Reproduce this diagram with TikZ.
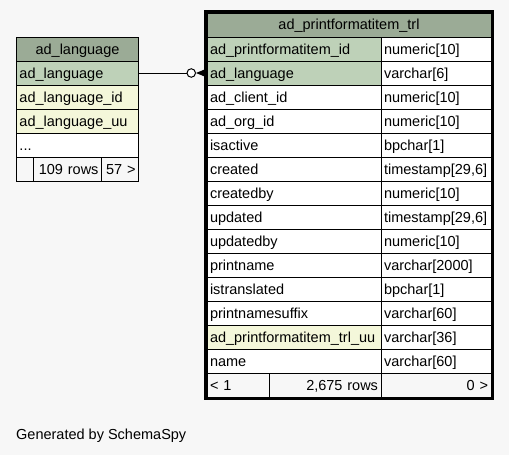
\documentclass[tikz,border=0pt]{standalone}
\usepackage{fontspec}
\setmainfont{Liberation Sans}
\usepackage{tikz}
\usetikzlibrary{positioning, arrows.meta, calc}

\definecolor{pagebg}{RGB}{247,247,247}
\definecolor{headfill}{RGB}{155,171,150}
\definecolor{keyfill}{RGB}{190,209,184}
\definecolor{idxfill}{RGB}{244,247,218}

\tikzset{
	cell/.style={draw=black, line width=1pt, anchor=north west, inner xsep=3pt, inner ysep=0pt, outer sep=0pt,
		minimum height=24pt, text height=12pt, text depth=2pt, align=left, fill=white,
		font=\fontsize{14.5}{17}\selectfont},
	lname/.style={cell, minimum width=122pt, text width=116pt},
	rname/.style={cell, minimum width=174pt, text width=168pt},
	rtype/.style={cell, minimum width=110pt, text width=104pt},
	foot/.style={cell, fill=pagebg},
}

\begin{document}
\begin{tikzpicture}[x=1pt,y=1pt,yscale=-1,xscale=1]
	\useasboundingbox[fill=pagebg] (0,0) rectangle (509,455);
	
	%Table: ad_language
	\node[lname, fill=headfill, align=center] (lhead) at (16.5,37) {ad\_language};
	\node[lname, fill=keyfill, below=0pt of lhead] (lkey) {ad\_language};
	\node[lname, fill=idxfill, below=0pt of lkey] (lid) {ad\_language\_id};
	\node[lname, fill=idxfill, below=0pt of lid] (luu) {ad\_language\_uu};
	\node[lname, below=0pt of luu] (ldots) {...};
	% footer
	\node[foot, minimum width=17pt, text width=11pt] (lf1) at (ldots.south west) {};
	\node[foot, minimum width=68pt, text width=62pt, align=right, right=0pt of lf1] (lf2) {109 rows};
	\node[foot, minimum width=37pt, text width=31pt, align=right, right=0pt of lf2] (lf3) {57 >};
	
	%Table: ad_printformatitem_trl
	\node[cell, minimum width=284pt, text width=278pt, fill=headfill, align=center] (rhead) at (207,13) {ad\_printformatitem\_trl};
	\node[rname, fill=keyfill] (rn1) at (rhead.south west) {ad\_printformatitem\_id};
	\node[rtype, right=0pt of rn1] (rt1) {numeric[10]};
	\node[rname, fill=keyfill, below=0pt of rn1] (rn2) {ad\_language};
	\node[rtype, right=0pt of rn2] (rt2) {varchar[6]};
	\node[rname, below=0pt of rn2] (rn3) {ad\_client\_id};
	\node[rtype, right=0pt of rn3] (rt3) {numeric[10]};
	\node[rname, below=0pt of rn3] (rn4) {ad\_org\_id};
	\node[rtype, right=0pt of rn4] (rt4) {numeric[10]};
	\node[rname, below=0pt of rn4] (rn5) {isactive};
	\node[rtype, right=0pt of rn5] (rt5) {bpchar[1]};
	\node[rname, below=0pt of rn5] (rn6) {created};
	\node[rtype, right=0pt of rn6] (rt6) {timestamp[29,6]};
	\node[rname, below=0pt of rn6] (rn7) {createdby};
	\node[rtype, right=0pt of rn7] (rt7) {numeric[10]};
	\node[rname, below=0pt of rn7] (rn8) {updated};
	\node[rtype, right=0pt of rn8] (rt8) {timestamp[29,6]};
	\node[rname, below=0pt of rn8] (rn9) {updatedby};
	\node[rtype, right=0pt of rn9] (rt9) {numeric[10]};
	\node[rname, below=0pt of rn9] (rn10) {printname};
	\node[rtype, right=0pt of rn10] (rt10) {varchar[2000]};
	\node[rname, below=0pt of rn10] (rn11) {istranslated};
	\node[rtype, right=0pt of rn11] (rt11) {bpchar[1]};
	\node[rname, below=0pt of rn11] (rn12) {printnamesuffix};
	\node[rtype, right=0pt of rn12] (rt12) {varchar[60]};
	\node[rname, fill=idxfill, below=0pt of rn12] (rn13) {ad\_printformatitem\_trl\_uu};
	\node[rtype, right=0pt of rn13] (rt13) {varchar[36]};
	\node[rname, below=0pt of rn13] (rn14) {name};
	\node[rtype, right=0pt of rn14] (rt14) {varchar[60]};
	% footer
	\node[foot, minimum width=62pt, text width=56pt] (rf1) at (rn14.south west) {< 1};
	\node[foot, minimum width=112pt, text width=106pt, align=right, right=0pt of rf1] (rf2) {2,675 rows};
	\node[foot, minimum width=110pt, text width=104pt, align=right, right=0pt of rf2] (rf3) {0 >};
	%Shape: thick frame
	\draw[line width=3pt] ($(rhead.north west)+(-1.5,-1.5)$) rectangle ($(rf3.south east)+(1.5,1.5)$);
	
	%Connector: ad_language -> ad_printformatitem_trl
	\node[circle, draw=black, fill=white, line width=1pt, minimum size=8.5pt, inner sep=0pt, left=11pt of rn2] (odot) {};
	\draw[line width=1pt] (lkey.east) -- (odot.west);
	\fill (odot.east) -- ($(rn2.west)+(0,-4.5)$) -- ($(rn2.west)+(0,4.5)$) -- cycle;
	
	% Text Node
	\node[anchor=base west, inner sep=0pt, font=\fontsize{14.5}{17}\selectfont] (credit) at (16,439) {Generated by SchemaSpy};
\end{tikzpicture}
\end{document}
